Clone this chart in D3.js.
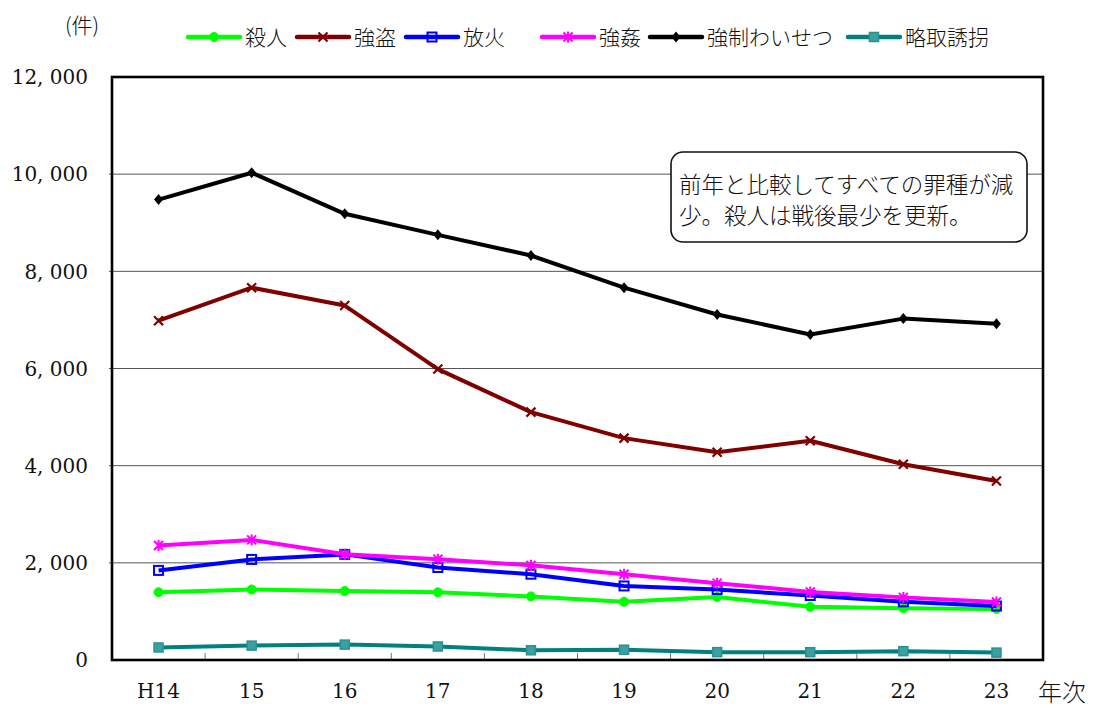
<!DOCTYPE html>
<html><head><meta charset="utf-8">
<script src="https://cdn.jsdelivr.net/npm/d3@7"></script>
<style>
html,body{margin:0;padding:0;background:#fff;}
svg{display:block;}
.jp{font-family:"Noto Sans CJK JP","Noto Sans CJK SC",sans-serif;font-weight:300;}
.num{font-family:"DejaVu Serif","Liberation Serif",serif;}
</style></head>
<body>
<svg id="chart" width="1096" height="709"></svg>
<script>
// ---- data ----
const years = ["H14","15","16","17","18","19","20","21","22","23"];
const seriesNames = ["殺人","強盗","放火","強姦","強制わいせつ","略取誘拐"];
const murder    = [1396,1452,1419,1392,1309,1199,1297,1094,1067,1051];
const robbery   = [6984,7664,7295,5988,5102,4567,4278,4512,4029,3685];
const arson     = [1844,2070,2174,1904,1766,1524,1452,1327,1197,1111];
const rape      = [2357,2472,2176,2076,1948,1766,1582,1402,1289,1193];
const indecent  = [9476,10029,9184,8751,8326,7664,7111,6700,7027,6920];
const kidnap    = [258,296,317,278,200,212,162,161,182,152];
const yTicks    = [0,2000,4000,6000,8000,10000,12000];
const unitLabel = "(件)";
const xAxisLabel = "年次";
const noteLines = ["前年と比較してすべての罪種が減","少。殺人は戦後最少を更新。"];

// ---- styles ----
const colors  = ["#00FF00","#800000","#0000FF","#FF00FF","#000000","#008080"];
const markers = ["circle","times","square","asterisk","diamond","square2"];
const values  = [murder,robbery,arson,rape,indecent,kidnap];

const W=1096,H=709;
const m={left:112,top:77,right:53,bottom:49};
const svg=d3.select("#chart");
const x=d3.scaleBand().domain(years).range([m.left,W-m.right]);
const y=d3.scaleLinear().domain([0,12000]).range([H-m.bottom,m.top]);

// gridlines
svg.append("g").selectAll("line").data(yTicks.filter(d=>d>0&&d<12000)).join("line")
  .attr("x1",m.left-3).attr("x2",W-m.right)
  .attr("y1",d=>y(d)).attr("y2",d=>y(d))
  .attr("stroke","#555").attr("stroke-width",1);

// y labels
svg.append("g").selectAll("text").data(yTicks).join("text")
  .attr("class","num").attr("x",88).attr("y",d=>y(d)).attr("dy","0.36em")
  .attr("text-anchor","end").attr("font-size",20).attr("fill","#111")
  .text(d=>d3.format(",")(d).replace(",",", "));

// x ticks at band boundaries
const bounds=years.slice(1).map(d=>x(d));
svg.append("g").selectAll("line").data(bounds).join("line")
  .attr("x1",d=>d).attr("x2",d=>d).attr("y1",H-m.bottom).attr("y2",H-m.bottom-7)
  .attr("stroke","#777").attr("stroke-width",1);

// x labels
svg.append("g").selectAll("text").data(years).join("text")
  .attr("class","num").attr("x",d=>x(d)+x.bandwidth()/2).attr("y",698)
  .attr("text-anchor","middle").attr("font-size",20).attr("fill","#111")
  .text(d=>d);

// annotation box
const box=svg.append("g");
box.append("rect").attr("x",671).attr("y",152).attr("width",356).attr("height",90)
  .attr("rx",12).attr("ry",12).attr("fill","#fff").attr("stroke","#111").attr("stroke-width",1.6);
box.selectAll("text").data(noteLines).join("text").attr("class","jp")
  .attr("x",679).attr("y",(d,i)=>193+i*31).attr("font-size",22.5).attr("fill","#111")
  .text(d=>d);

function drawMarker(g,type,color,cx,cy){
  const s=4.5;
  if(type==="circle"){
    g.append("circle").attr("cx",cx).attr("cy",cy).attr("r",s).attr("fill",color).attr("stroke",color);
  } else if(type==="times"){
    g.append("path").attr("d",`M${cx-s},${cy-s}L${cx+s},${cy+s}M${cx-s},${cy+s}L${cx+s},${cy-s}`)
      .attr("stroke",color).attr("stroke-width",2.2);
  } else if(type==="square"){
    g.append("rect").attr("x",cx-s).attr("y",cy-s).attr("width",2*s).attr("height",2*s)
      .attr("fill","none").attr("stroke",color).attr("stroke-width",2);
  } else if(type==="asterisk"){
    g.append("path").attr("d",`M${cx-s},${cy-s}L${cx+s},${cy+s}M${cx-s},${cy+s}L${cx+s},${cy-s}M${cx},${cy-s-1}L${cx},${cy+s+1}`)
      .attr("stroke",color).attr("stroke-width",2);
  } else if(type==="diamond"){
    g.append("path").attr("d",`M${cx},${cy-s-1}L${cx+s},${cy}L${cx},${cy+s+1}L${cx-s},${cy}Z`).attr("fill",color);
  } else if(type==="square2"){
    g.append("rect").attr("x",cx-s).attr("y",cy-s).attr("width",2*s).attr("height",2*s)
      .attr("fill","#3aa0a0").attr("stroke","#2a9090").attr("stroke-width",1.5);
  }
}

// lines
const line=d3.line().x((d,i)=>x(years[i])+x.bandwidth()/2).y(d=>y(d));
values.forEach((vals,k)=>{
  const g=svg.append("g");
  g.append("path").datum(vals).attr("d",line).attr("fill","none")
    .attr("stroke",colors[k]).attr("stroke-width",4).attr("stroke-linejoin","round");
  vals.forEach((v,i)=>drawMarker(g,markers[k],colors[k],x(years[i])+x.bandwidth()/2,y(v)));
});

// frame
svg.append("rect").attr("x",m.left).attr("y",m.top).attr("width",W-m.left-m.right)
  .attr("height",H-m.top-m.bottom).attr("fill","none").attr("stroke","#000").attr("stroke-width",2.6);

// legend
const legX=[188,297,406,542,650,848];
const legY=37;
seriesNames.forEach((name,k)=>{
  const g=svg.append("g");
  g.append("line").attr("x1",legX[k]).attr("x2",legX[k]+52).attr("y1",legY).attr("y2",legY)
    .attr("stroke",colors[k]).attr("stroke-width",4.5).attr("stroke-linecap","round");
  drawMarker(g,markers[k],colors[k],legX[k]+26,legY);
  g.append("text").attr("class","jp").attr("x",legX[k]+57).attr("y",legY).attr("dy","0.36em")
    .attr("font-size",21).attr("fill","#111").text(name);
});

// unit labels
svg.append("text").attr("class","jp").attr("x",65).attr("y",25).attr("dy","0.36em")
  .attr("font-size",21).attr("fill","#111").text(unitLabel);
svg.append("text").attr("class","jp").attr("x",1038).attr("y",692).attr("dy","0.36em")
  .attr("font-size",24).attr("fill","#111").text(xAxisLabel);
</script>
</body></html>
